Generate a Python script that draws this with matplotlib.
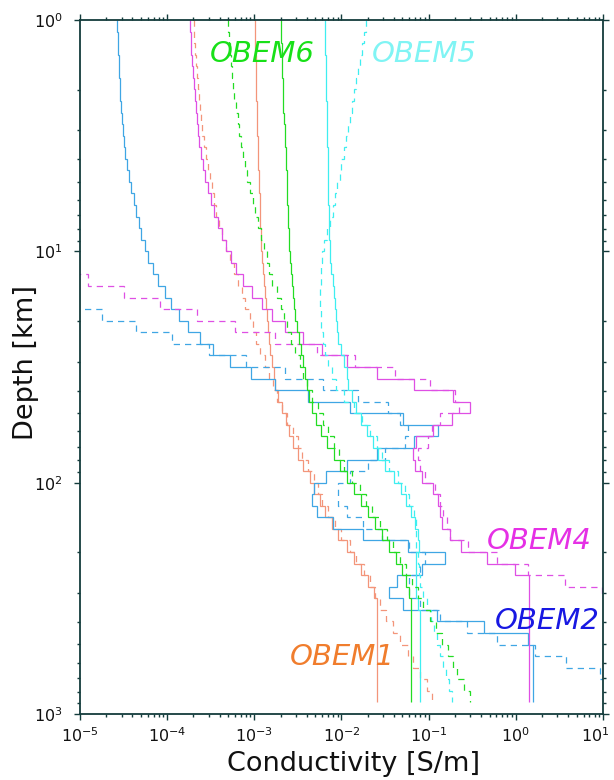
import matplotlib
matplotlib.use('Agg')
import matplotlib.pyplot as plt
import matplotlib.transforms as mtransforms
import numpy as np
from matplotlib.ticker import LogLocator, NullFormatter

# layer boundaries of the 1-D models [km]
layer_edges_km = [1.0, 1.122, 1.259, 1.413, 1.585, 1.778, 1.995, 2.239, 2.512, 2.818,
                  3.162, 3.548, 3.981, 4.467, 5.012, 5.623, 6.310, 7.079, 7.943, 8.913,
                  10.0, 11.22, 12.59, 14.13, 15.85, 17.78, 19.95, 22.39, 25.12, 28.18,
                  31.62, 35.48, 39.81, 44.67, 50.12, 56.23, 63.10, 70.79, 79.43, 89.13,
                  100.0, 112.2, 125.9, 141.3, 158.5, 177.8, 199.5, 223.9, 251.2, 281.8,
                  316.2, 354.8, 398.1, 446.7, 501.2, 562.3, 631.0, 707.9, 794.3, 891.3]

# log10 conductivity [S/m] of each layer
obem1_solid = [-2.99, -2.99, -2.99, -2.98, -2.98, -2.98, -2.98, -2.97, -2.97, -2.97,
               -2.96, -2.96, -2.96, -2.95, -2.95, -2.94, -2.94, -2.93, -2.92, -2.92,
               -2.91, -2.90, -2.89, -2.88, -2.87, -2.86, -2.84, -2.83, -2.82, -2.80,
               -2.78, -2.76, -2.73, -2.68, -2.64, -2.60, -2.56, -2.50, -2.44, -2.36,
               -2.31, -2.25, -2.19, -2.11, -2.04, -1.94, -1.86, -1.78, -1.70, -1.63,
               -1.59, -1.59, -1.59, -1.59, -1.59, -1.59, -1.59, -1.59, -1.59]
obem1_dashed = [-3.69, -3.69, -3.68, -3.67, -3.66, -3.65, -3.64, -3.62, -3.61, -3.60,
                -3.58, -3.56, -3.53, -3.51, -3.49, -3.46, -3.44, -3.41, -3.37, -3.33,
                -3.28, -3.23, -3.19, -3.14, -3.11, -3.05, -3.02, -2.98, -2.94, -2.88,
                -2.83, -2.79, -2.74, -2.68, -2.63, -2.56, -2.50, -2.45, -2.39, -2.31,
                -2.27, -2.22, -2.16, -2.08, -2.00, -1.90, -1.83, -1.74, -1.67, -1.61,
                -1.56, -1.49, -1.41, -1.33, -1.24, -1.18, -1.10, -1.02, -0.96]

obem2_solid = [-4.57, -4.56, -4.56, -4.55, -4.55, -4.54, -4.54, -4.53, -4.52, -4.51,
               -4.50, -4.48, -4.46, -4.44, -4.42, -4.38, -4.36, -4.32, -4.30, -4.26,
               -4.22, -4.16, -4.11, -4.03, -3.96, -3.86, -3.76, -3.62, -3.47, -3.28,
               -3.04, -2.76, -2.39, -1.90, -1.30, -0.89, -1.17, -1.59, -1.94, -2.18,
               -2.32, -2.34, -2.28, -2.10, -1.75, -1.24, -0.81, -1.08, -1.36, -1.46,
               -1.30, -0.91, -0.36, 0.14, 0.20, 0.20, 0.20, 0.20, 0.20]
obem2_dashed = [-5.5, -5.5, -5.5, -5.5, -5.5, -5.5, -5.5, -5.5, -5.5, -5.5,
                -5.5, -5.5, -5.5, -5.5, -5.5, -5.5, -5.5, -5.5, -5.5, -5.5,
                -5.5, -5.5, -5.5, -5.5, -5.5, -4.75, -4.36, -3.94, -3.52, -3.09,
                -2.65, -2.21, -1.81, -1.47, -1.33, -1.24, -1.27, -1.50, -1.70, -1.90,
                -2.04, -2.04, -1.94, -1.75, -1.53, -1.22, -1.04, -1.10, -1.22, -1.22,
                -1.10, -0.87, -0.56, -0.22, 0.22, 0.57, 0.96, 1.20, 1.30]

obem4_solid = [-3.74, -3.73, -3.73, -3.72, -3.70, -3.69, -3.68, -3.67, -3.66, -3.65,
               -3.63, -3.61, -3.59, -3.57, -3.53, -3.50, -3.46, -3.42, -3.37, -3.33,
               -3.27, -3.21, -3.13, -3.03, -2.91, -2.80, -2.65, -2.44, -2.22, -1.94,
               -1.59, -1.17, -0.72, -0.53, -0.73, -0.95, -1.15, -1.18, -1.16, -1.08,
               -0.95, -0.89, -0.87, -0.85, -0.76, -0.63, -0.33, -0.01, 0.15, 0.15,
               0.15, 0.15, 0.15, 0.15, 0.15, 0.15, 0.15, 0.15, 0.15]
obem4_dashed = [-5.5, -5.5, -5.5, -5.5, -5.5, -5.5, -5.5, -5.5, -5.5, -5.5,
                -5.5, -5.5, -5.5, -5.5, -5.5, -5.5, -5.5, -5.5, -5.5, -5.5,
                -5.5, -5.5, -4.91, -4.50, -4.08, -3.66, -3.22, -2.76, -2.28, -1.85,
                -1.39, -0.99, -0.70, -0.65, -0.87, -0.96, -1.01, -1.12, -1.10, -1.04,
                -0.93, -0.87, -0.84, -0.79, -0.76, -0.55, -0.22, 0.14, 0.56, 0.99,
                1.30, 1.30, 1.30, 1.30, 1.30, 1.30, 1.30, 1.30, 1.30]

obem5_solid = [-2.19, -2.19, -2.19, -2.18, -2.18, -2.18, -2.18, -2.17, -2.17, -2.17,
               -2.17, -2.16, -2.16, -2.16, -2.15, -2.15, -2.14, -2.14, -2.14, -2.13,
               -2.13, -2.12, -2.10, -2.09, -2.08, -2.06, -2.05, -2.04, -2.01, -1.97,
               -1.94, -1.92, -1.88, -1.83, -1.78, -1.71, -1.64, -1.58, -1.50, -1.40,
               -1.32, -1.26, -1.20, -1.16, -1.12, -1.11, -1.14, -1.15, -1.15, -1.14,
               -1.12, -1.10, -1.10, -1.10, -1.10, -1.10, -1.10, -1.10, -1.10]
obem5_dashed = [-1.72, -1.74, -1.77, -1.79, -1.81, -1.83, -1.86, -1.88, -1.90, -1.93,
                -1.95, -1.97, -2.00, -2.02, -2.05, -2.08, -2.10, -2.13, -2.17, -2.20,
                -2.22, -2.23, -2.24, -2.25, -2.25, -2.24, -2.23, -2.21, -2.19, -2.16,
                -2.11, -2.06, -1.97, -1.86, -1.77, -1.67, -1.59, -1.53, -1.45, -1.35,
                -1.27, -1.22, -1.17, -1.15, -1.14, -1.14, -1.12, -1.11, -1.10, -1.07,
                -1.02, -0.97, -0.94, -0.91, -0.87, -0.84, -0.80, -0.77, -0.73]

obem6_solid = [-2.69, -2.69, -2.68, -2.68, -2.68, -2.67, -2.67, -2.67, -2.66, -2.65,
               -2.65, -2.64, -2.64, -2.63, -2.63, -2.62, -2.61, -2.61, -2.60, -2.60,
               -2.59, -2.58, -2.57, -2.56, -2.55, -2.53, -2.51, -2.49, -2.47, -2.44,
               -2.42, -2.40, -2.37, -2.34, -2.29, -2.24, -2.17, -2.09, -2.02, -1.94,
               -1.86, -1.78, -1.70, -1.62, -1.54, -1.46, -1.38, -1.31, -1.26, -1.23,
               -1.20, -1.20, -1.20, -1.20, -1.20, -1.20, -1.20, -1.20, -1.20]
obem6_dashed = [-3.30, -3.29, -3.28, -3.27, -3.26, -3.25, -3.23, -3.21, -3.19, -3.18,
                -3.15, -3.13, -3.11, -3.08, -3.05, -3.02, -2.99, -2.96, -2.92, -2.89,
                -2.86, -2.83, -2.80, -2.74, -2.69, -2.66, -2.63, -2.58, -2.53, -2.48,
                -2.44, -2.40, -2.34, -2.27, -2.21, -2.16, -2.09, -2.03, -1.97, -1.88,
                -1.79, -1.72, -1.65, -1.56, -1.48, -1.41, -1.33, -1.26, -1.19, -1.12,
                -1.06, -0.99, -0.92, -0.85, -0.78, -0.72, -0.67, -0.60, -0.53]

stations = ['OBEM1', 'OBEM2', 'OBEM4', 'OBEM5', 'OBEM6']
line_colors = {'OBEM1': '#f3957a', 'OBEM2': '#3fa6e4', 'OBEM4': '#df4fe4',
               'OBEM5': '#3eeef0', 'OBEM6': '#23dc23'}
label_colors = {'OBEM1': '#f07d2d', 'OBEM2': '#1818e2', 'OBEM4': '#e530e5',
                'OBEM5': '#80f4f4', 'OBEM6': '#18e018'}
# label anchor (conductivity S/m, depth km)
label_pos = {'OBEM1': (10 ** -2.59, 565), 'OBEM2': (10 ** -0.24, 395),
             'OBEM4': (10 ** -0.33, 178), 'OBEM5': (10 ** -1.65, 1.40),
             'OBEM6': (10 ** -3.51, 1.40)}
models = {'OBEM1': (obem1_solid, obem1_dashed), 'OBEM2': (obem2_solid, obem2_dashed),
          'OBEM4': (obem4_solid, obem4_dashed), 'OBEM5': (obem5_solid, obem5_dashed),
          'OBEM6': (obem6_solid, obem6_dashed)}

fig = plt.figure(figsize=(6.14, 7.8), dpi=100)
ax = fig.add_axes([80 / 614, 1 - 714 / 780, 523 / 614, 694 / 780])

edges = np.array(layer_edges_km)
for name in stations:
    solid, dashed = models[name]
    c = line_colors[name]
    ax.stairs(10 ** np.array(dashed), edges, orientation='horizontal', baseline=None,
              color=c, lw=0.9, linestyle=(0, (5, 4)))
    ax.stairs(10 ** np.array(solid), edges, orientation='horizontal', baseline=None,
              color=c, lw=0.9)

for name in stations:
    x, y = label_pos[name]
    ax.text(x, y, name, color=label_colors[name], fontsize=21, style='oblique',
            ha='left', va='center')

ax.set_xscale('log')
ax.set_yscale('log')
ax.set_xlim(1e-5, 10)
ax.set_ylim(1000, 1)

xexp = [-5, -4, -3, -2, -1, 0, 1]
yexp = [0, 1, 2, 3]
ax.set_xticks([10.0 ** e for e in xexp])
ax.set_xticklabels(['10$^{%d}$' % e for e in xexp])
ax.set_yticks([10.0 ** e for e in yexp])
ax.set_yticklabels(['10$^{%d}$' % e for e in yexp])
ax.xaxis.set_minor_locator(LogLocator(base=10, subs=range(2, 10), numticks=20))
ax.yaxis.set_minor_locator(LogLocator(base=10, subs=range(2, 10), numticks=20))
ax.xaxis.set_minor_formatter(NullFormatter())
ax.yaxis.set_minor_formatter(NullFormatter())

frame = '#143c3c'
for s in ax.spines.values():
    s.set_color(frame)
    s.set_linewidth(1.3)
ax.tick_params(which='both', direction='out', top=True, right=True,
               labeltop=False, labelright=False, color=frame, width=1.0,
               labelsize=11.5, labelcolor='#111111')
ax.tick_params(which='major', length=4.5)
ax.tick_params(which='minor', length=2.5)
ax.tick_params(axis='x', which='major', pad=4)
ax.tick_params(axis='y', which='major', pad=8)

# keep the last x label inside the canvas
last = ax.get_xticklabels()[-1]
last.set_transform(last.get_transform() +
                   mtransforms.ScaledTranslation(-8 / 100, 0, fig.dpi_scale_trans))

fig.text(354 / 614, 1 - 764 / 780, 'Conductivity [S/m]', fontsize=19.5,
         ha='center', va='center', color='#111111')
fig.text(26 / 614, 1 - 362 / 780, 'Depth [km]', fontsize=19.5, rotation=90,
         ha='center', va='center', color='#111111')

fig.savefig('out.png', dpi=100)
